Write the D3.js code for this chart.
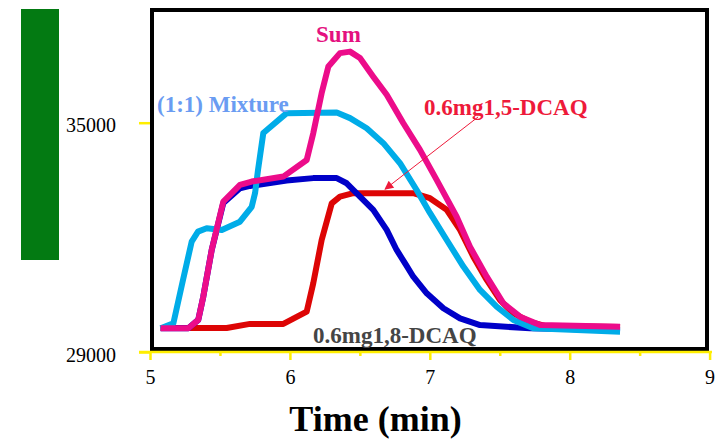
<!DOCTYPE html>
<html>
<head>
<meta charset="utf-8">
<script src="https://cdn.jsdelivr.net/npm/d3@7"></script>
<style>
  html, body { margin: 0; padding: 0; background: #fff; }
  svg { display: block; }
  text { font-family: "Times New Roman", "Liberation Serif", serif; }
</style>
</head>
<body>
<svg id="chart" width="721" height="440"></svg>
<script>
// ---- Data ----
const xTickValues = [5, 5.5, 6, 6.5, 7, 7.5, 8, 8.5, 9];
const xTickLabels = ["5", "", "6", "", "7", "", "8", "", "9"];
const yTickValues = [29000, 35000];
const yTickLabels = ["29000", "35000"];

const mixtureTime  = [5.076, 5.167, 5.236, 5.298, 5.343, 5.405, 5.513, 5.643, 5.727, 5.751, 5.772, 5.81, 5.977, 6.335, 6.43, 6.549, 6.668, 6.787, 6.906, 7.001, 7.121, 7.24, 7.359, 7.478, 7.597, 7.74, 8.36];
const mixtureValue = [29620, 29750, 30885, 31890, 32150, 32240, 32190, 32410, 32800, 33160, 33760, 34730, 35250, 35265, 35120, 34855, 34465, 33940, 33240, 32640, 31930, 31235, 30625, 30185, 29840, 29620, 29530];

const sumTime  = [5.076, 5.274, 5.345, 5.381, 5.441, 5.524, 5.643, 5.727, 5.953, 6.12, 6.167, 6.227, 6.275, 6.358, 6.43, 6.501, 6.596, 6.692, 6.811, 6.93, 7.049, 7.192, 7.287, 7.407, 7.526, 7.645, 7.788, 8.36];
const sumValue = [29620, 29620, 29840, 30450, 31670, 32935, 33370, 33460, 33590, 34025, 34725, 35775, 36470, 36820, 36860, 36690, 36205, 35730, 34985, 34290, 33505, 32540, 31755, 30970, 30275, 29925, 29705, 29660];

const dcaq18Time  = [5.076, 5.274, 5.345, 5.381, 5.441, 5.524, 5.643, 5.715, 5.977, 6.167, 6.335, 6.406, 6.501, 6.596, 6.692, 6.763, 6.83, 6.882, 6.978, 7.097, 7.216, 7.359, 7.716, 8.36];
const dcaq18Value = [29620, 29620, 29840, 30450, 31670, 32900, 33285, 33345, 33485, 33550, 33550, 33415, 33065, 32720, 32195, 31670, 31280, 30970, 30535, 30145, 29880, 29705, 29620, 29575];

const dcaq15Time  = [5.076, 5.548, 5.715, 5.953, 6.12, 6.167, 6.227, 6.299, 6.358, 6.453, 6.882, 7.001, 7.121, 7.216, 7.311, 7.407, 7.502, 7.597, 7.716, 7.823, 8.36];
const dcaq15Value = [29630, 29630, 29735, 29735, 30055, 30800, 31930, 32890, 33065, 33155, 33155, 33025, 32720, 32195, 31495, 30885, 30360, 30015, 29785, 29680, 29655];

const seriesNames  = ["0.6mg1,5-DCAQ", "0.6mg1,8-DCAQ", "(1:1) Mixture", "Sum"];
const seriesColors = ["#dd0505", "#0000c8", "#00ace8", "#ec0c8a"];
const labelColors  = ["#ee1a3a", "#454545", "#6a9cf2", "#e4117f"];
const xTitle = "Time (min)";

// ---- Layout ----
const svg = d3.select("#chart");
const x = d3.scaleLinear().domain([5, 9]).range([150, 709.6]);
const y = d3.scaleLinear().domain([29000, 35000]).range([352, 122.7]);

// green block on the left
svg.append("rect").attr("x", 21).attr("y", 9).attr("width", 38).attr("height", 251).attr("fill", "#037a12");

// plot frame
svg.append("rect").attr("x", 152).attr("y", 10).attr("width", 555).attr("height", 339)
  .attr("fill", "#fff").attr("stroke", "#000").attr("stroke-width", 4);

// series
const series = [
  {t: dcaq15Time, v: dcaq15Value},
  {t: dcaq18Time, v: dcaq18Value},
  {t: mixtureTime, v: mixtureValue},
  {t: sumTime, v: sumValue}
];
const line = d3.line().x(d => x(d[0])).y(d => y(d[1]));
series.forEach((s, i) => {
  const pts = s.t.map((t, k) => [t, s.v[k]]);
  svg.append("path").datum(pts).attr("d", line)
    .attr("fill", "none").attr("stroke", seriesColors[i])
    .attr("stroke-width", 6).attr("stroke-linejoin", "round").attr("stroke-linecap", "butt");
});

// x axis (yellow)
const xAxis = d3.axisBottom(x).tickValues(xTickValues)
  .tickFormat((d, i) => xTickLabels[i]).tickSize(8).tickPadding(10);
const gx = svg.append("g").attr("transform", "translate(0,352)").call(xAxis);
gx.select(".domain").remove();
gx.selectAll(".tick line").attr("stroke", "#ffee00").attr("stroke-width", 2.5)
  .attr("y2", (d, i) => xTickLabels[i] ? 8 : 4);
gx.selectAll(".tick text").attr("font-size", 20).attr("fill", "#000")
  .attr("font-family", "'Times New Roman', 'Liberation Serif', serif");
svg.append("line").attr("x1", 139).attr("x2", 712).attr("y1", 352).attr("y2", 352)
  .attr("stroke", "#ffee00").attr("stroke-width", 2.5);

// y axis (yellow ticks)
const yAxis = d3.axisLeft(y).tickValues(yTickValues)
  .tickFormat((d, i) => yTickLabels[i]).tickSize(11).tickPadding(23);
const gy = svg.append("g").attr("transform", "translate(150,0)").call(yAxis);
gy.select(".domain").remove();
gy.selectAll(".tick line").attr("stroke", "#ffee00").attr("stroke-width", 2.5);
gy.selectAll(".tick text").attr("font-size", 20).attr("fill", "#000").attr("dy", "0.45em")
  .attr("font-family", "'Times New Roman', 'Liberation Serif', serif");

// axis title
svg.append("text").attr("x", 375.5).attr("y", 431).attr("text-anchor", "middle")
  .attr("font-size", 36).attr("font-weight", "bold").attr("fill", "#000").text(xTitle);

// annotations
const defs = svg.append("defs");
defs.append("marker").attr("id", "arrow").attr("viewBox", "0 0 10 10")
  .attr("refX", 9).attr("refY", 5).attr("markerWidth", 11).attr("markerHeight", 9)
  .attr("markerUnits", "userSpaceOnUse").attr("orient", "auto")
  .append("path").attr("d", "M0,0 L10,5 L0,10 z").attr("fill", "#ee1a3a");

svg.append("line").attr("x1", x(7.345)).attr("y1", y(35150)).attr("x2", x(6.68)).attr("y2", y(33260))
  .attr("stroke", "#ee1a3a").attr("stroke-width", 1).attr("marker-end", "url(#arrow)");

const ann = svg.append("g").attr("font-weight", "bold").attr("font-size", 23);
ann.append("text").attr("x", x(6.187)).attr("y", 42).attr("fill", labelColors[3]).text(seriesNames[3]);
ann.append("text").attr("x", 157).attr("y", 112).attr("fill", labelColors[2]).text(seriesNames[2]);
ann.append("text").attr("x", 424).attr("y", 115).attr("fill", labelColors[0]).text(seriesNames[0]);
ann.append("text").attr("x", 313).attr("y", 343).attr("fill", labelColors[1]).text(seriesNames[1]);
</script>
</body>
</html>
